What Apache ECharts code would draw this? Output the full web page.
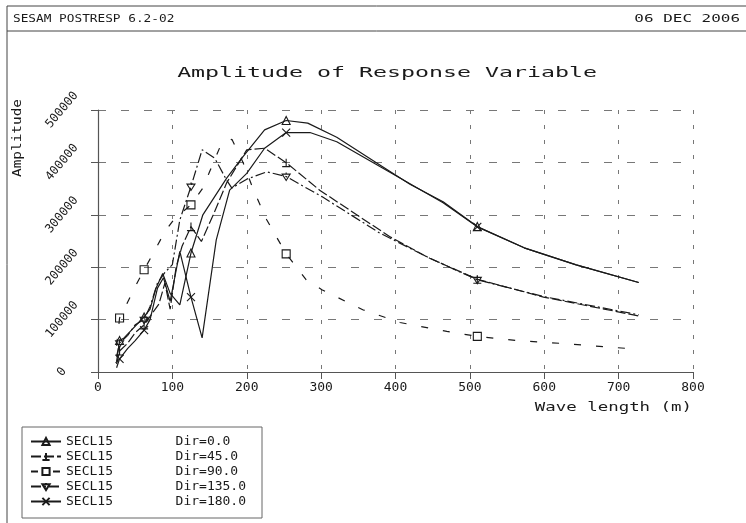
<!DOCTYPE html>
<html><head><meta charset="utf-8">
<script src="https://cdn.jsdelivr.net/npm/echarts@6/dist/echarts.min.js"></script>
<style>html,body{margin:0;padding:0;background:#fff}#c{width:746px;height:523px}</style>
</head><body><div id="c"></div>
<script>
// ---- data ----
const markerWaveLengths = [29, 62, 125, 253, 510];
const xTicks = [0, 100, 200, 300, 400, 500, 600, 700, 800];
const yTicks = [0, 100000, 200000, 300000, 400000, 500000];

const dir0_x = [25, 29, 35, 45, 55, 62, 70, 78, 87, 97, 110, 125, 141, 173, 195, 224, 253, 282, 321, 379, 420, 464, 510, 573, 643, 727];
const dir0_y = [20000, 60000, 65000, 80000, 95000, 105000, 120000, 160000, 188000, 150000, 128000, 227000, 300000, 370000, 411000, 462000, 480000, 475000, 448000, 395000, 358000, 325000, 277500, 237000, 204500, 170800];

const dir45_x = [25, 29, 40, 50, 62, 72, 82, 90, 97, 105, 113, 125, 139, 155, 173, 200, 224, 253, 298, 392, 446, 510, 599, 727];
const dir45_y = [15000, 40000, 55000, 75000, 90000, 110000, 130000, 170000, 120000, 200000, 240000, 277500, 249000, 300000, 361000, 424000, 427000, 399500, 347000, 258500, 217000, 177000, 143000, 107000];

const dir90_x = [25, 29, 38, 50, 62, 79, 90, 103, 125, 141, 150, 166, 180, 195, 209, 227, 253, 280, 301, 356, 406, 469, 510, 563, 630, 722];
const dir90_y = [50000, 103000, 128000, 163000, 195000, 239000, 268000, 293000, 319000, 351000, 382000, 436000, 444000, 400000, 347500, 290000, 225500, 176000, 157000, 118700, 94500, 77400, 67900, 60200, 53900, 43800];

const dir135_x = [25, 29, 40, 50, 62, 70, 80, 90, 100, 110, 125, 140, 157, 173, 180, 200, 227, 253, 301, 379, 446, 510, 599, 727];
const dir135_y = [30000, 55000, 70000, 90000, 100000, 125000, 170000, 190000, 205000, 290000, 354000, 424000, 408000, 366000, 351000, 368000, 382000, 373000, 334700, 265000, 217300, 176000, 144000, 109200];

const dir180_x = [25, 29, 40, 50, 62, 70, 80, 88, 97, 110, 125, 140, 159, 177, 200, 224, 253, 285, 321, 379, 464, 510, 573, 643, 727];
const dir180_y = [8000, 25000, 45000, 60000, 80000, 100000, 160000, 180000, 135000, 230000, 143000, 65000, 252000, 347000, 379000, 427000, 457000, 457000, 439500, 392000, 323000, 277000, 237000, 204500, 170800];

const seriesNames = ['SECL15        Dir=0.0', 'SECL15        Dir=45.0', 'SECL15        Dir=90.0', 'SECL15        Dir=135.0', 'SECL15        Dir=180.0'];
const titleText = 'Amplitude of Response Variable';
const headerLeft = 'SESAM POSTRESP 6.2-02';
const headerRight = '06 DEC 2006';
const xName = 'Wave length (m)';
const yName = 'Amplitude';

// ---- styling ----
const INK = '#1a1a1a';
const FONT = "'DejaVu Sans Mono', monospace";
const symbols = [
  'triangle',
  'path://M10,0L10,20M0,20L20,20',
  'rect',
  'path://M0,4L20,4L10,20ZM10,0L10,4',
  'path://M0,0L20,20M20,0L0,20'
];
const dashes = ['solid', [10, 3], [7, 15], [10, 3, 2, 3], 'solid'];
const xs = [dir0_x, dir45_x, dir90_x, dir135_x, dir180_x];
const ys = [dir0_y, dir45_y, dir90_y, dir135_y, dir180_y];

function buildData(xa, ya) {
  return xa.map((x, i) => {
    const isMark = markerWaveLengths.indexOf(x) >= 0;
    return isMark ? { value: [x, ya[i]] } : { value: [x, ya[i]], symbol: 'none' };
  });
}

const series = seriesNames.map((n, k) => ({
  name: n,
  type: 'line',
  data: buildData(xs[k], ys[k]),
  symbol: symbols[k],
  symbolSize: 8,
  showAllSymbol: true,
  lineStyle: { color: INK, width: 1.2, type: dashes[k] },
  itemStyle: { color: 'rgba(255,255,255,0)', borderColor: INK, borderWidth: 1.1 },
  emphasis: { disabled: true },
  z: 3
}));

const chart = echarts.init(document.getElementById('c'), null, { renderer: 'canvas' });
chart.setOption({
  animation: false,
  backgroundColor: '#fff',
  grid: { left: 98, right: 53, top: 110, bottom: 151, containLabel: false },
  xAxis: {
    type: 'value', min: 0, max: 800, interval: 100,
    axisLine: { onZero: false, lineStyle: { color: '#555', width: 1.2 } },
    axisTick: { show: true, length: 7, inside: false, lineStyle: { color: '#555' } },
    axisLabel: { color: INK, fontFamily: FONT, fontSize: 13, margin: 9,
      formatter: v => String(v) },
    splitLine: { show: true, lineStyle: { color: '#777', type: [4, 11], width: 1 } }
  },
  yAxis: {
    type: 'value', min: 0, max: 500000, interval: 100000,
    axisLine: { show: true, onZero: false, lineStyle: { color: '#555', width: 1.2 } },
    axisTick: { show: true, length: 7, inside: false, lineStyle: { color: '#555' } },
    axisLabel: { color: INK, fontFamily: FONT, fontSize: 12, rotate: 50, align: 'center',
      verticalAlign: 'middle', margin: 36, formatter: v => String(v) },
    splitLine: { show: true, lineStyle: { color: '#777', type: [8, 15], width: 1 } }
  },
  legend: {
    show: true, orient: 'vertical', left: 22, top: 427,
    data: seriesNames,
    itemWidth: 30, itemHeight: 9, itemGap: 0,
    padding: [7, 16, 9, 8],
    borderColor: '#666', borderWidth: 1,
    textStyle: { color: INK, fontFamily: FONT, fontSize: 13, lineHeight: 15 },
    selectedMode: false
  },
  graphic: [
    { type: 'line', shape: { x1: 7, y1: 6, x2: 746, y2: 6 }, style: { stroke: '#444', lineWidth: 1 } },
    { type: 'line', shape: { x1: 7, y1: 31, x2: 746, y2: 31 }, style: { stroke: '#444', lineWidth: 1 } },
    { type: 'line', shape: { x1: 7, y1: 6, x2: 7, y2: 523 }, style: { stroke: '#444', lineWidth: 1 } },
    { type: 'text', x: 13, y: 19, style: { text: headerLeft, font: '11px ' + FONT, fill: INK, textAlign: 'left', textVerticalAlign: 'middle' }, scaleX: 1.16 },
    { type: 'text', x: 740, y: 19, style: { text: headerRight, font: '11px ' + FONT, fill: INK, textAlign: 'right', textVerticalAlign: 'middle' }, scaleX: 1.45 },
    { type: 'text', x: 387, y: 73, style: { text: titleText, font: '14px ' + FONT, fill: INK, textAlign: 'center', textVerticalAlign: 'middle' }, scaleX: 1.66 },
    { type: 'text', x: 18, y: 138, rotation: Math.PI / 2, style: { text: yName, font: '12px ' + FONT, fill: INK, textAlign: 'center', textVerticalAlign: 'middle' }, scaleX: 1.2 },
    { type: 'text', x: 692, y: 408, style: { text: xName, font: '12px ' + FONT, fill: INK, textAlign: 'right', textVerticalAlign: 'middle' }, scaleX: 1.45 }
  ],
  series: series
});
</script></body></html>
